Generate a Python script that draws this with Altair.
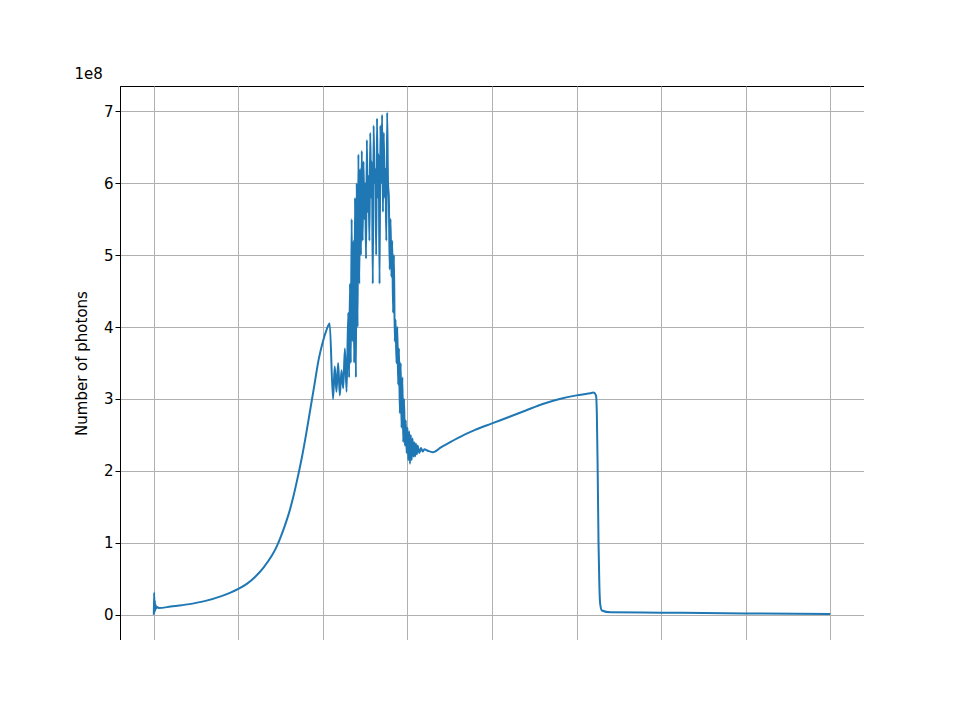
import altair as alt
import pandas as pd

x_vals = [-1.0, -0.998, -0.996, -0.994, -0.992, -0.99, -0.985, -0.98, -0.97, -0.9, -0.8, -0.7, -0.6, -0.55, -0.5, -0.45, -0.4, -0.35, -0.3, -0.275, -0.25, -0.225, -0.2, -0.175, -0.15, -0.125, -0.1, -0.075, -0.05, -0.025, 0.0, 0.02, 0.04,
          0.06, 0.07, 0.08, 0.09, 0.10, 0.11, 0.12, 0.13, 0.14, 0.15, 0.155, 0.16, 0.165, 0.17, 0.175, 0.18, 0.185, 0.19, 0.195, 0.20, 0.205, 0.21, 0.215, 0.22, 0.225, 0.23,
          0.235, 0.24, 0.245, 0.25, 0.255, 0.26, 0.265, 0.27, 0.275, 0.28, 0.285, 0.29, 0.295, 0.30, 0.305, 0.31, 0.315, 0.32, 0.325, 0.33, 0.335, 0.34, 0.345, 0.35,
          0.355, 0.36, 0.365, 0.37, 0.375, 0.38, 0.385, 0.39, 0.395, 0.40, 0.405, 0.41, 0.415, 0.42, 0.425, 0.43, 0.435, 0.44, 0.445, 0.45, 0.455, 0.46, 0.465, 0.47,
          0.475, 0.48, 0.485, 0.49, 0.495, 0.50, 0.505, 0.51, 0.515, 0.52, 0.525, 0.53, 0.535, 0.54, 0.545, 0.55, 0.555, 0.56, 0.57, 0.58, 0.59, 0.60, 0.62, 0.65,
          0.7, 0.8, 0.9, 1.0, 1.1, 1.2, 1.3, 1.4, 1.5, 1.58, 1.6, 1.615, 1.62, 1.625, 1.63, 1.635, 1.64, 1.65, 1.7, 2.0, 2.5, 3.0]
y_vals = [0.0, 3.1, 0.3, 2.0, 0.6, 1.4, 0.9, 1.1, 0.95, 1.15, 1.45, 1.9, 2.6, 3.05, 3.6, 4.3, 5.3, 6.6, 8.3, 9.4, 10.8, 12.4, 14.2, 16.4, 19.0, 21.8, 25.0, 28.5, 32.0, 35.5, 38.0, 39.5, 40.5,
          30.0, 34.5, 31.0, 35.0, 30.5, 34.0, 31.5, 37.0, 31.0, 42.0, 33.0, 46.0, 35.0, 55.0, 38.0, 52.0, 35.0, 58.0, 33.0, 60.0, 40.0, 64.0, 46.0, 62.0, 50.0, 64.5,
          52.0, 63.0, 55.0, 60.0, 49.5, 66.0, 56.0, 61.0, 52.0, 67.0, 58.0, 63.0, 46.0, 68.0, 60.0, 62.0, 50.0, 69.0, 58.0, 64.0, 46.0, 68.0, 60.0, 69.5,
          56.0, 67.0, 58.0, 62.0, 52.0, 69.8, 60.0, 58.0, 48.0, 55.0, 47.0, 52.0, 42.0, 50.0, 38.0, 41.0, 35.0, 40.0, 32.0, 37.0, 28.0, 35.0, 26.0, 33.0,
          24.0, 30.0, 23.5, 27.0, 22.5, 26.0, 21.5, 25.5, 21.0, 25.0, 21.5, 24.5, 22.0, 24.0, 22.0, 23.8, 22.3, 23.5, 22.5, 23.2, 22.7, 23.0, 22.8, 22.6,
          23.3, 24.6, 25.7, 26.6, 27.5, 28.4, 29.3, 30.0, 30.5, 30.8, 30.9, 30.5, 28.0, 20.0, 10.0, 4.0, 1.5, 0.6, 0.35, 0.3, 0.2, 0.1]

df = pd.DataFrame({"x": x_vals, "y": [v * 1e7 for v in y_vals], "i": list(range(len(x_vals)))})

chart = alt.Chart(df).mark_line(color="#1f77b4", strokeWidth=2, interpolate="monotone").encode(
    x=alt.X("x:Q", title="Laser detuning (GHz)", scale=alt.Scale(domain=[-1.2, 3.2], nice=False),
            axis=alt.Axis(values=[-1.0, -0.5, 0.0, 0.5, 1.0, 1.5, 2.0, 2.5, 3.0], format=".1f", gridColor="#b0b0b0", titlePadding=6)),
    y=alt.Y("y:Q", title="Number of photons", scale=alt.Scale(domain=[-0.35e8, 7.35e8], nice=False),
            axis=alt.Axis(values=[0, 1e8, 2e8, 3e8, 4e8, 5e8, 6e8, 7e8], labelExpr="datum.value / 1e8", gridColor="#b0b0b0", titlePadding=14)),
    order="i:Q",
).properties(width=744, height=554, autosize=alt.AutoSizeParams(type="none"),
             padding={"left": 112, "top": 78, "right": 0, "bottom": 0},
             title=alt.TitleParams("1e8", anchor="start", fontSize=15, fontWeight="normal", offset=4)
).configure_axis(labelFontSize=15, titleFontSize=15, titleFontWeight="normal", labelFont="DejaVu Sans", titleFont="DejaVu Sans",
                 domainColor="black", tickColor="black", labelColor="black", titleColor="black", gridOpacity=1
).configure_title(font="DejaVu Sans").configure_view(stroke="black")

chart.save("out.html", embed_options={"renderer": "svg", "actions": False})
